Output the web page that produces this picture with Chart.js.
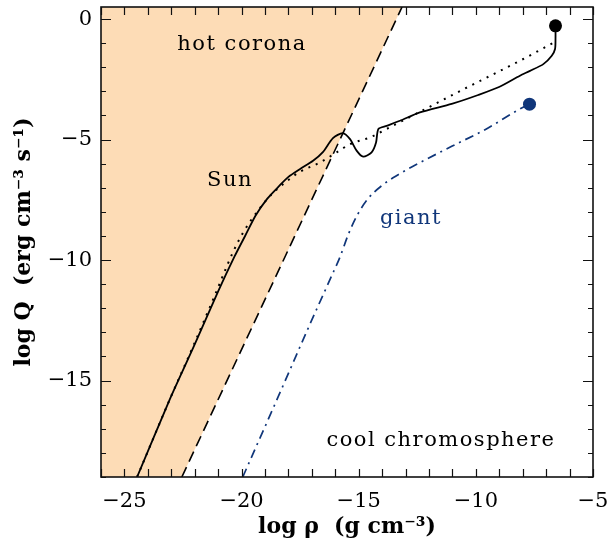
<!DOCTYPE html>
<html><head><meta charset="utf-8">
<script src="https://cdn.jsdelivr.net/npm/chart.js@4.4.1/dist/chart.umd.min.js"></script>
<style>html,body{margin:0;padding:0;background:#fff;}canvas{display:block;}</style>
</head><body>
<canvas id="c" width="610" height="543"></canvas>
<script>
// ---- axis ranges and labelled ticks ----
const rhoRange = [-26, -5];
const qRange = [-19, 0.5];
const rhoTickLabels = [-25, -20, -15, -10, -5];
const qTickLabels = [0, -5, -10, -15];

// ---- Sun model (solid) ----
const sunSolidRho = [-24.46, -23.06, -22.0, -21.0, -20.3, -19.85, -19.4, -18.9, -18.39, -18.0, -17.5, -16.95, -16.53, -16.1, -15.68, -15.37, -15.09, -14.81, -14.45, -14.26, -14.16, -13.81, -13.24, -12.39, -11.03, -9.9, -9.01, -8.12, -7.69, -7.12, -6.76, -6.62, -6.6, -6.6];
const sunSolidQ   = [-19.0, -15.77, -13.5, -11.3, -9.85, -9.0, -8.15, -7.45, -6.92, -6.55, -6.22, -5.88, -5.52, -4.94, -4.73, -4.98, -5.46, -5.71, -5.53, -5.12, -4.56, -4.43, -4.22, -3.87, -3.52, -3.15, -2.82, -2.35, -2.15, -1.87, -1.52, -1.24, -0.8, -0.28];

// ---- Sun model (dotted) ----
const sunDottedRho = [-24.46, -23.06, -22.1, -21.2, -20.38, -19.93, -19.3, -18.71, -18.1, -17.5, -16.65, -15.94, -15.37, -14.52, -13.81, -12.33, -10.5, -8.12, -6.74];
const sunDottedQ   = [-19.0, -15.77, -13.65, -11.6, -9.7, -8.85, -7.95, -7.26, -6.75, -6.33, -5.95, -5.53, -5.19, -4.91, -4.56, -3.82, -2.9, -1.73, -1.01];

// ---- giant model (dash-dot) ----
const giantRho = [-19.95, -18.45, -17.1, -16.2, -15.79, -15.45, -15.07, -14.6, -14.0, -13.3, -12.76, -11.03, -9.59, -8.14, -7.71];
const giantQ   = [-19.0, -15.7, -12.7, -10.75, -9.85, -8.95, -8.15, -7.45, -6.9, -6.45, -6.15, -5.28, -4.58, -3.74, -3.53];

// ---- end points (filled dots) ----
const sunTopRho = [-6.6];
const sunTopQ = [-0.28];
const giantTopRho = [-7.71];
const giantTopQ = [-3.53];

// ---- corona / chromosphere boundary (dashed) ----
const boundaryRho = [-22.55, -13.15];
const boundaryQ = [-19.0, 0.5];
// shaded hot-corona region: lower edge, filled up to the top of the plot
const coronaRho = [-26, -22.55, -13.15];
const coronaQ = [-19.0, -19.0, 0.5];

// ---- region labels ----
const regionLabels = ['hot corona', 'Sun', 'giant', 'cool chromosphere'];
const regionLabelRho = [-19.98, -20.49, -12.77, -11.49];
const regionLabelQ = [-1.04, -6.7, -8.26, -17.47];

const zip = (xs, ys) => xs.map((x, i) => ({x: x, y: ys[i]}));
const intRange = (a, b) => { const r = []; for (let v = Math.ceil(a); v <= Math.floor(b); v++) r.push({value: v}); return r; };

const BLUE = '#10367a';
const PEACH = '#fddcb6';
const SERIF = '"DejaVu Serif", "Liberation Serif", serif';

const labelStyles = [
  {color: '#000'}, {color: '#000'}, {color: BLUE}, {color: '#000'}
];

const framePlugin = {
  id: 'frameTicks',
  afterDatasetsDraw(chart) {
    const {ctx, chartArea: a, scales} = chart;
    const xs = scales.x, ys = scales.y;
    ctx.save();
    // region labels
    ctx.font = '21px ' + SERIF;
    ctx.textAlign = 'center';
    ctx.textBaseline = 'middle';
    try { ctx.letterSpacing = '1.5px'; } catch (e) {}
    regionLabels.forEach((t, i) => {
      ctx.fillStyle = labelStyles[i].color;
      ctx.fillText(t, xs.getPixelForValue(regionLabelRho[i]), ys.getPixelForValue(regionLabelQ[i]));
    });
    try { ctx.letterSpacing = '0px'; } catch (e) {}
    // frame
    ctx.strokeStyle = '#111';
    ctx.lineWidth = 1.6;
    ctx.strokeRect(a.left, a.top, a.right - a.left, a.bottom - a.top);
    ctx.lineWidth = 1.2;
    ctx.beginPath();
    xs.ticks.forEach(t => {
      const px = Math.round(xs.getPixelForValue(t.value)) + 0.5;
      const len = 8;
      ctx.moveTo(px, a.bottom); ctx.lineTo(px, a.bottom - len);
      ctx.moveTo(px, a.top); ctx.lineTo(px, a.top + len);
    });
    ys.ticks.forEach(t => {
      const py = Math.round(ys.getPixelForValue(t.value)) + 0.5;
      const len = (t.value % 5 === 0) ? 10 : 5;
      ctx.moveTo(a.left, py); ctx.lineTo(a.left + len, py);
      ctx.moveTo(a.right, py); ctx.lineTo(a.right - len, py);
    });
    ctx.stroke();
    ctx.restore();
  }
};

const minusFmt = v => (v < 0 ? '\u2212' + Math.abs(v) : String(v));

new Chart(document.getElementById('c'), {
  type: 'scatter',
  data: {
    datasets: [
      {data: zip(sunTopRho, sunTopQ), pointRadius: 6.5, pointBackgroundColor: '#000', pointBorderWidth: 0, showLine: false, order: 0},
      {data: zip(giantTopRho, giantTopQ), pointRadius: 6.5, pointBackgroundColor: BLUE, pointBorderWidth: 0, showLine: false, order: 0},
      {data: zip(sunSolidRho, sunSolidQ), showLine: true, borderColor: '#000', borderWidth: 1.8, pointRadius: 0, tension: 0.25, order: 1},
      {data: zip(sunDottedRho, sunDottedQ), showLine: true, borderColor: '#000', borderWidth: 2, borderDash: [2, 6], pointRadius: 0, cubicInterpolationMode: 'monotone', order: 2},
      {data: zip(giantRho, giantQ), showLine: true, borderColor: BLUE, borderWidth: 1.7, borderDash: [9, 5, 2, 5], pointRadius: 0, cubicInterpolationMode: 'monotone', order: 3},
      {data: zip(boundaryRho, boundaryQ), showLine: true, borderColor: '#000', borderWidth: 1.6, borderDash: [11, 6], pointRadius: 0, order: 4},
      {data: zip(coronaRho, coronaQ), showLine: true, borderWidth: 0, borderColor: 'rgba(0,0,0,0)', backgroundColor: PEACH, fill: 'end', pointRadius: 0, order: 10}
    ]
  },
  options: {
    responsive: false,
    animation: false,
    devicePixelRatio: 1,
    layout: {padding: {top: 7, right: 17, left: 0, bottom: 0}},
    plugins: {legend: {display: false}, tooltip: {enabled: false}},
    scales: {
      x: {
        type: 'linear', min: rhoRange[0], max: rhoRange[1],
        grid: {display: false, drawTicks: false}, border: {display: false},
        afterBuildTicks: s => { s.ticks = intRange(rhoRange[0], rhoRange[1]); },
        ticks: {
          autoSkip: false, maxRotation: 0, padding: 12, color: '#000',
          font: {family: SERIF, size: 21},
          callback: v => rhoTickLabels.includes(v) ? minusFmt(v) : ''
        },
        title: {display: true, text: 'log \u03c1  (g cm\u207b\u00b3)', color: '#000',
          font: {family: SERIF, size: 22, weight: 'bold'}, padding: {top: 0, bottom: 3}},
        afterFit: s => { s.height = 66; s.paddingLeft = 0; s.paddingRight = 0; }
      },
      y: {
        type: 'linear', min: qRange[0], max: qRange[1],
        grid: {display: false, drawTicks: false}, border: {display: false},
        afterBuildTicks: s => { s.ticks = intRange(qRange[0], qRange[1]); },
        ticks: {
          autoSkip: false, padding: 9, color: '#000',
          font: {family: SERIF, size: 21},
          callback: v => qTickLabels.includes(v) ? minusFmt(v) : ''
        },
        title: {display: true, text: 'log Q  (erg cm\u207b\u00b3 s\u207b\u00b9)', color: '#000',
          font: {family: SERIF, size: 22, weight: 'bold'}, padding: {top: 11, bottom: 0}},
        afterFit: s => { s.width = 101; s.paddingTop = 0; s.paddingBottom = 0; }
      }
    }
  },
  plugins: [framePlugin]
});
</script>
</body></html>
